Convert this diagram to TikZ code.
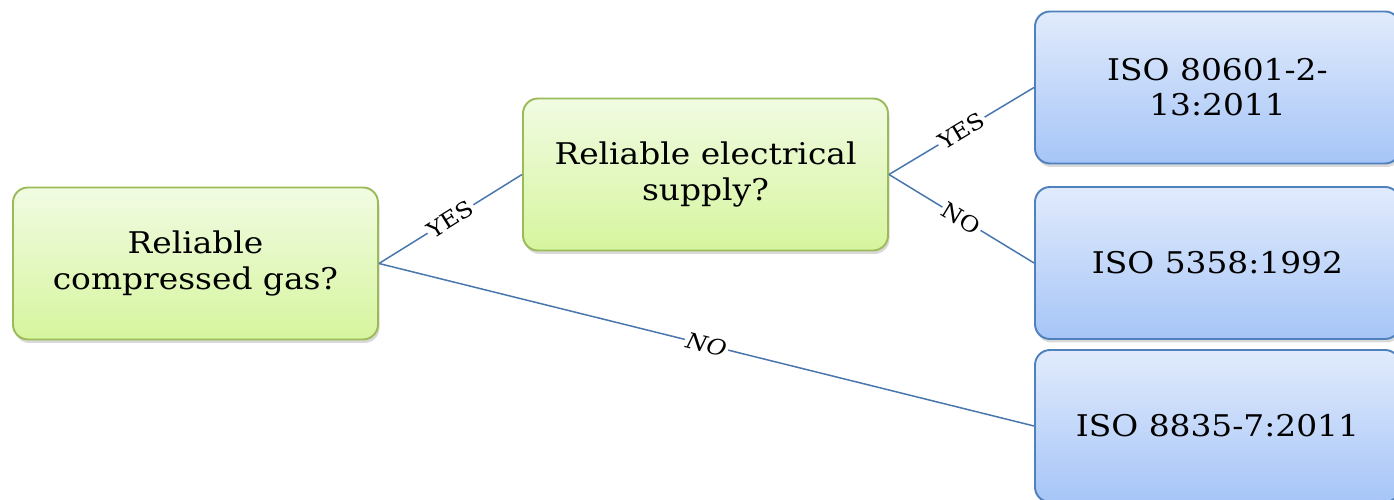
\documentclass[tikz,border=0pt]{standalone}
\usepackage{fontspec}
\setmainfont[FakeStretch=1.1]{DejaVu Serif}
\usetikzlibrary{shadows}
\definecolor{gtop}{HTML}{F1FBE2}
\definecolor{gbot}{HTML}{D6F59E}
\definecolor{gborder}{HTML}{9BBB59}
\definecolor{btop}{HTML}{E1EBFC}
\definecolor{bbot}{HTML}{A6C5F7}
\definecolor{bborder}{HTML}{4F81BD}
\definecolor{edgecol}{HTML}{4A76AE}
\tikzset{
  box/.style={rounded corners=0.3cm, minimum width=7.3cm, minimum height=3.04cm,
    align=center, line width=1.1pt, font=\fontsize{17}{20}\selectfont,
    drop shadow={opacity=0.3, shadow xshift=0.03cm, shadow yshift=-0.07cm}},
  qbox/.style={box, draw=gborder, top color=gtop, bottom color=gbot},
  abox/.style={box, draw=bborder, top color=btop, bottom color=bbot},
  edge/.style={draw=edgecol, line width=0.85pt},
  lbl/.style={midway, sloped, fill=white, inner sep=1pt, text=black,
    font=\fontsize{12.5}{13}\selectfont}
}
\begin{document}
\begin{tikzpicture}
\useasboundingbox (0,0) rectangle (27.88,-10);
\node[qbox] (A) at (3.91,-5.27) {Reliable\\compressed gas?};
\node[qbox] (B) at (14.11,-3.49) {Reliable electrical\\supply?};
\node[abox] (C) at (24.35,-1.75) {ISO 80601-2-\\13:2011};
\node[abox] (D) at (24.35,-5.26) {ISO 5358:1992};
\node[abox] (E) at (24.35,-8.52) {ISO 8835-7:2011};
\draw[edge] (A.east) -- node[lbl] {YES} (B.west);
\draw[edge] (A.east) -- node[lbl] {\itshape NO} (E.west);
\draw[edge] (B.east) -- node[lbl] {YES} (C.west);
\draw[edge] (B.east) -- node[lbl] {NO} (D.west);
\end{tikzpicture}
\end{document}
